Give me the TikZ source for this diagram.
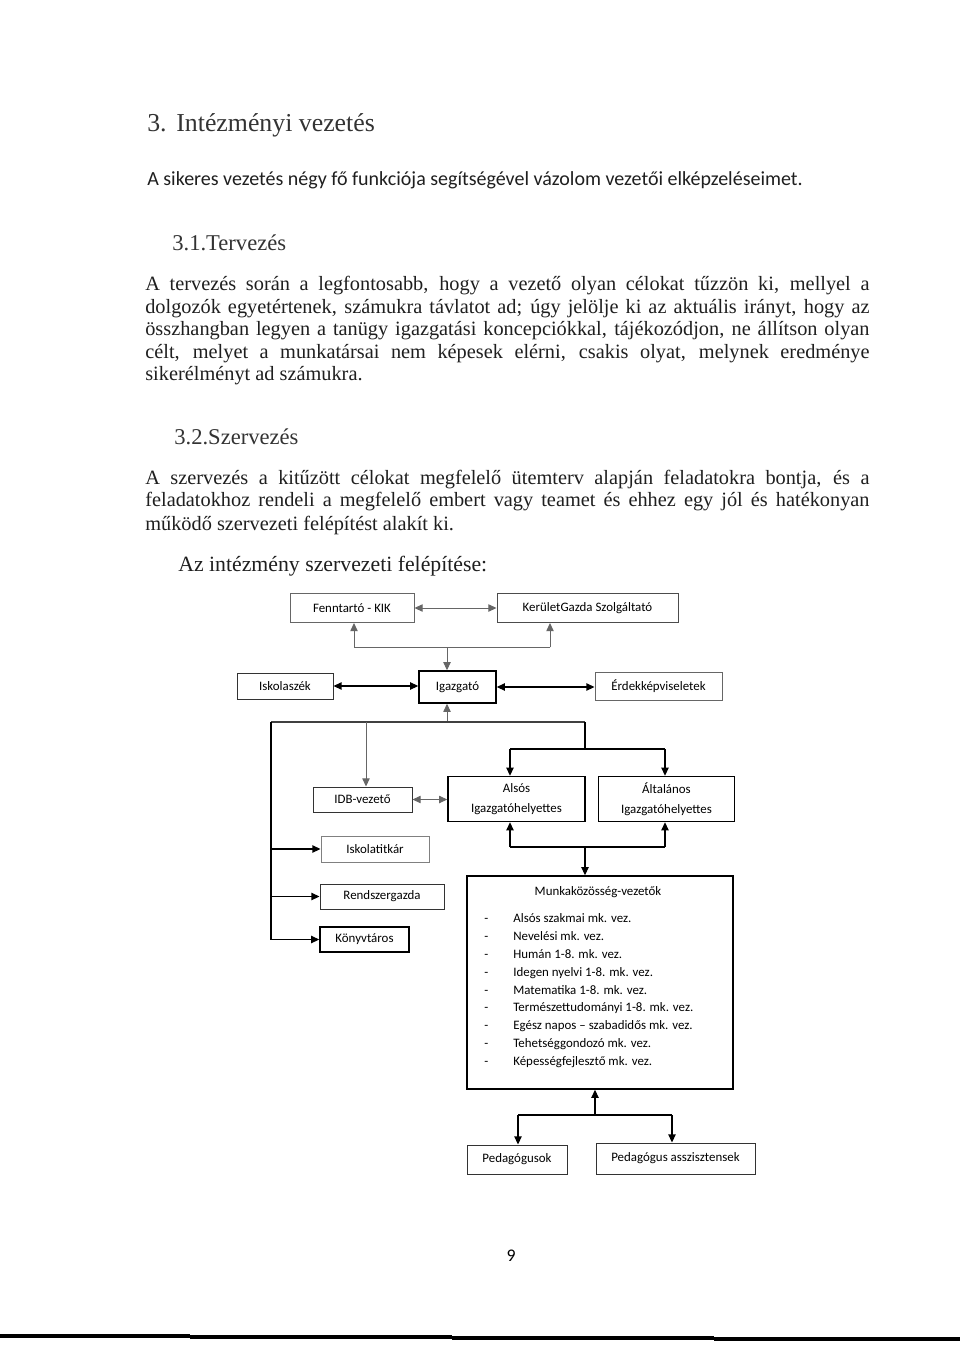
\documentclass[tikz,border=0pt]{standalone}
\usepackage{fontspec}
\setmainfont{Liberation Serif}
\newfontfamily\dgfont{Carlito}
\usetikzlibrary{arrows.meta}
\newcommand\dg{\dgfont\fontsize{8}{9.6}\selectfont}
\begin{document}
\begin{tikzpicture}[x=0.62pt,y=-0.62pt,
  txt/.style={anchor=west,inner sep=0,text=black!88},
  sz/.style 2 args={minimum width=#1*0.62pt,minimum height=#2*0.62pt},
  bx/.style={draw=black!80,line width=0.6pt,font=\dg,inner sep=0,align=center},
  bxd/.style={bx,draw=black,line width=0.9pt},
  ln/.style={line width=0.7pt,draw=black},
  lg/.style={line width=0.6pt,draw=black!60,fill=black!60},
  tip/.style={-{Triangle[length=5pt,width=4.5pt]}},
  tips/.style={{Triangle[length=5pt,width=4.5pt]}-{Triangle[length=5pt,width=4.5pt]}}]
\useasboundingbox (0,0) rectangle (960,1345);
\fill[white] (0,0) rectangle (960,1345);
% ---- text
\node[txt,font=\fontsize{16}{19}\selectfont,text=black!80] (h1) at (147,125) {3.\hspace{6pt}Intézményi vezetés};
\node[txt,font=\dgfont\fontsize{12.4}{14}\selectfont] (s1) at (147,180) {A sikeres vezetés négy fő funkciója segítségével vázolom vezetői elképzeléseimet.};
\node[txt,font=\fontsize{14}{17}\selectfont,text=black!80] (h2) at (172,243) {3.1.Tervezés};
\begin{scope}[every node/.append style={txt,font=\fontsize{12.6}{14}\selectfont}]
\node (p1a) at (145,286) {\makebox[449pt][s]{A tervezés során a legfontosabb, hogy a vezető olyan célokat tűzzön ki, mellyel a}};
\node (p1b) at (145,309) {\makebox[449pt][s]{dolgozók egyetértenek, számukra távlatot ad; úgy jelölje ki az aktuális irányt, hogy az}};
\node (p1c) at (145,331) {\makebox[449pt][s]{összhangban legyen a tanügy igazgatási koncepciókkal, tájékozódjon, ne állítson olyan}};
\node (p1d) at (145,354) {\makebox[449pt][s]{célt, melyet a munkatársai nem képesek elérni, csakis olyat, melynek eredménye}};
\node (p1e) at (145,376) {sikerélményt ad számukra.};
\node (p2a) at (145,480) {\makebox[449pt][s]{A szervezés a kitűzött célokat megfelelő ütemterv alapján feladatokra bontja, és a}};
\node (p2b) at (145,502) {\makebox[449pt][s]{feladatokhoz rendeli a megfelelő embert vagy teamet és ehhez egy jól és hatékonyan}};
\node (p2c) at (145,525) {működő szervezeti felépítést alakít ki.};
\end{scope}
\node[txt,font=\fontsize{14}{17}\selectfont,text=black!80] (h3) at (174,437) {3.2.Szervezés};
\node[txt,font=\fontsize{13.5}{16}\selectfont] (h4) at (178,566) {Az intézmény szervezeti felépítése:};
% ---- boxes
\node[bx,sz={124}{29},draw=black!60] (fen) at (352,608) {Fenntartó - KIK};
\node[bx,sz={181}{29},draw=black!70] (ker) at (587.5,608) {KerületGazda Szolgáltató};
\node[bx,sz={96}{26}] (isz) at (285,686) {Iskolaszék};
\node[bxd,sz={77}{32}] (igz) at (457.5,687) {Igazgató};
\node[bx,sz={127}{28},draw=black!60] (erd) at (658.5,686) {Érdekképviseletek};
\node[bx,sz={99}{25}] (idb) at (362.5,799.5) {IDB-vezető};
\node[bxd,sz={137}{45}] (als) at (516.5,799) {Alsós\\[2.5pt]Igazgatóhelyettes};
\node[bxd,sz={136}{45}] (alt) at (666.5,799) {Általános\\[2.5pt]Igazgatóhelyettes};
\node[bx,sz={108}{26},draw=black!50] (tit) at (375,849) {Iskolatitkár};
\node[bx,sz={124}{25}] (rsz) at (382,896.5) {Rendszergazda};
\node[bxd,sz={89}{25}] (kon) at (364.5,939.5) {Könyvtáros};
\node[bxd,sz={266}{213}] (mk) at (600,982.5) {};
\node[font=\dg,inner sep=0] (mkt) at (598,892) {Munkaközösség-vezetők};
\begin{scope}[every node/.append style={font=\dg,anchor=base west,inner sep=0}]
\foreach \t [count=\i] in {Alsós szakmai mk. vez.,Nevelési mk. vez.,Humán 1-8. mk. vez.,Idegen nyelvi 1-8. mk. vez.,Matematika 1-8. mk. vez.,Természettudományi 1-8. mk. vez.,Egész napos – szabadidős mk. vez.,Tehetséggondozó mk. vez.,Képességfejlesztő mk. vez.}{
  \node (d\i) at (484,{905+\i*17.8}) {-};
  \node (m\i) at (513,{905+\i*17.8}) {\t};
}
\end{scope}
\node[bx,sz={100}{29}] (ped) at (517,1159.5) {Pedagógusok};
\node[bx,sz={159}{31}] (asz) at (675.5,1158.5) {Pedagógus asszisztensek};
% ---- connectors
\draw[lg,tips] (fen.east) -- (ker.west);
\coordinate (t1) at (354,647); \coordinate (t2) at (550,647); \coordinate (t0) at (447,647);
\draw[lg] (t1) -- (t2);
\draw[lg,tip] (t1) -- (t1 |- fen.south);
\draw[lg,tip] (t2) -- (t2 |- ker.south);
\draw[lg,tip] (t0) -- (t0 |- igz.north);
\draw[ln,tips] (isz.east) -- (isz.east -| igz.west);
\draw[ln,tips] (igz.east) -- (igz.east -| erd.west);
\coordinate (b0) at (447,722); \coordinate (bl) at (271,722); \coordinate (br) at (585,722); \coordinate (bi) at (366,722);
\draw[lg,tip] (b0) -- (b0 |- igz.south);
\draw[ln,draw=black!75] (bl) -- (br);
\draw[lg,tip] (bi) -- (bi |- idb.north);
\draw[ln] (bl) -- (bl |- kon.west);
\draw[ln,tip] (bl |- tit.west) -- (tit.west);
\draw[ln,tip] (bl |- rsz.west) -- (rsz.west);
\draw[ln,tip] (bl |- kon.west) -- (kon.west);
\coordinate (rb) at (585,749); \coordinate (ra) at (510,749); \coordinate (rt) at (665,749);
\draw[ln] (br) -- (rb);
\draw[ln] (ra) -- (rt);
\draw[ln,tip] (ra) -- (ra |- als.north);
\draw[ln,tip] (rt) -- (rt |- alt.north);
\draw[lg,tips] (idb.east) -- (idb.east -| als.west);
\coordinate (la) at (510,847); \coordinate (lt) at (665,847); \coordinate (lm) at (585,847);
\draw[ln] (la) -- (lt);
\draw[ln,tip] (la) -- (la |- als.south);
\draw[ln,tip] (lt) -- (lt |- alt.south);
\draw[ln,tip] (lm) -- (lm |- mk.north);
\coordinate (pm) at (595,1115); \coordinate (pa) at (518,1115); \coordinate (pb) at (672,1115);
\draw[ln] (pa) -- (pb);
\draw[ln,tip] (pm) -- (pm |- mk.south);
\draw[ln,tip] (pa) -- (pa |- ped.north);
\draw[ln,tip] (pb) -- (pb |- asz.north);
% ---- page number and bottom rule
\node[font=\dgfont\fontsize{11}{13}\selectfont] (pg) at (511,1256) {9};
\draw[line width=1.9pt] (0,1336) -- (190,1336);
\draw[line width=1.9pt] (190,1337) -- (452,1337);
\draw[line width=1.9pt] (452,1338) -- (714,1338);
\draw[line width=1.9pt] (714,1339) -- (960,1339);
\end{tikzpicture}
\end{document}
